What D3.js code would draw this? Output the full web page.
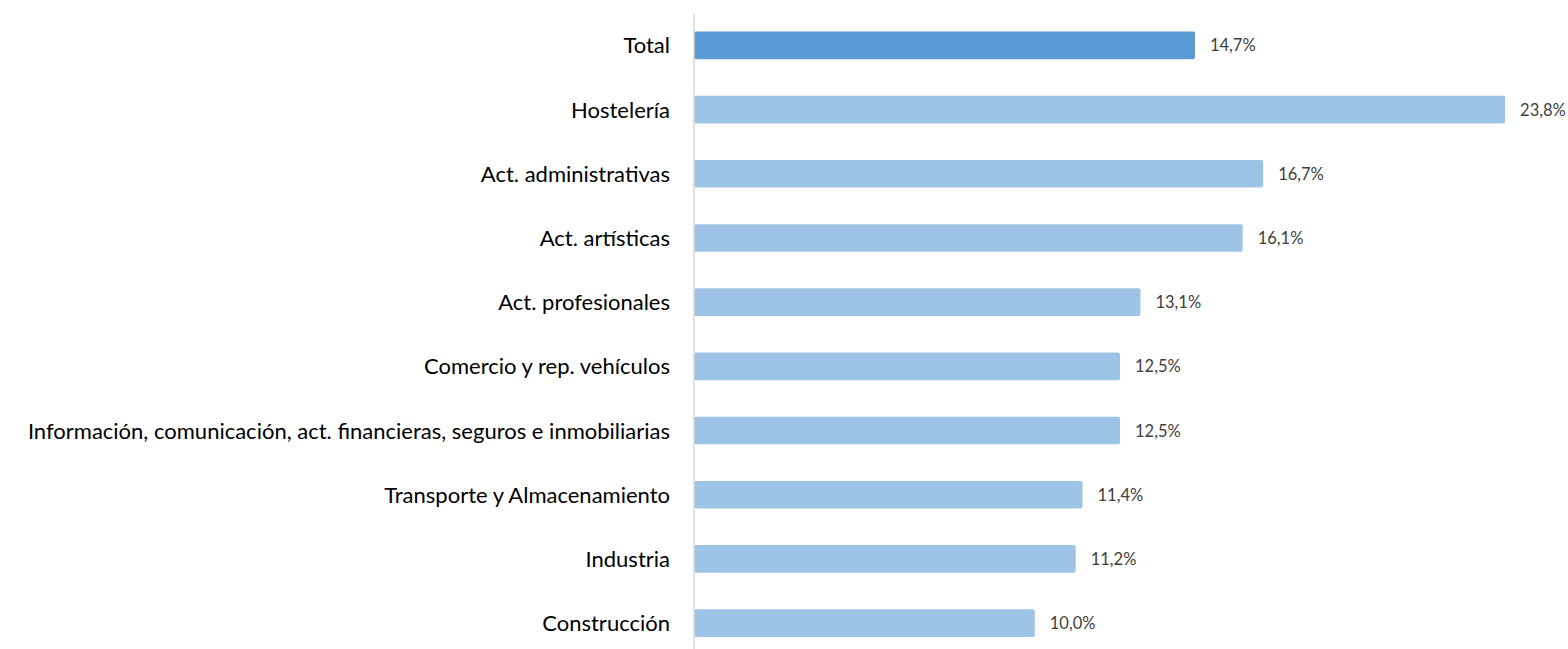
<!DOCTYPE html>
<html>
<head>
<meta charset="utf-8">
<script src="https://cdn.jsdelivr.net/npm/d3@7"></script>
<style>
  body { margin: 0; background: #fff; }
  svg { display: block; }
</style>
</head>
<body>
<div id="chart"></div>
<script>
const categories = [
  "Total",
  "Hostelería",
  "Act. administrativas",
  "Act. artísticas",
  "Act. profesionales",
  "Comercio y rep. vehículos",
  "Información, comunicación, act. financieras, seguros e inmobiliarias",
  "Transporte y Almacenamiento",
  "Industria",
  "Construcción"
]
const values = [14.7, 23.8, 16.7, 16.1, 13.1, 12.5, 12.5, 11.4, 11.2, 10.0]

const svgWidth = 1568
const svgHeight = 649

let svg = d3.select('#chart')
    .append('svg')
    .attr('width', svgWidth)
    .attr('height', svgHeight)

let xScale = d3.scaleLinear()
    .domain([0, 24])
    .range([694, 694 + 24 * 34.08])

let yScale = d3.scaleBand()
    .domain(categories)
    .range([17.5, 651])
    .paddingInner(0.57)
    .paddingOuter(0.22)

let fmt = d => d.toFixed(1).replace('.', ',') + '%'

// bars
svg.append("g")
    .selectAll("rect")
    .data(values)
    .join("rect")
    .attr("x", xScale(0))
    .attr("y", (d, i) => yScale(categories[i]))
    .attr("width", d => xScale(d) - xScale(0))
    .attr("height", yScale.bandwidth())
    .attr("rx", 2)
    .attr("fill", (d, i) => i == 0 ? "#5b9bd5" : "#9dc3e6")

// axis line
svg.append("line")
    .attr("x1", xScale(0))
    .attr("x2", xScale(0))
    .attr("y1", 14)
    .attr("y2", svgHeight)
    .attr("stroke", "#d9d9d9")
    .attr("stroke-width", 1.5)

// category labels
svg.append("g")
    .selectAll("text")
    .data(categories)
    .join("text")
    .attr("x", xScale(0) - 24)
    .attr("y", d => yScale(d) + yScale.bandwidth() / 2 + 8)
    .attr("text-anchor", "end")
    .attr("font-family", "Lato, sans-serif")
    .attr("font-size", "22px")
    .attr("fill", "#000")
    .text(d => d)

// value labels
svg.append("g")
    .selectAll("text")
    .data(values)
    .join("text")
    .attr("x", d => xScale(d) + 15)
    .attr("y", (d, i) => yScale(categories[i]) + yScale.bandwidth() / 2 + 6)
    .attr("font-family", "Lato, sans-serif")
    .attr("font-size", "16.5px")
    .attr("fill", "#404040")
    .text(d => fmt(d))
</script>
</body>
</html>
